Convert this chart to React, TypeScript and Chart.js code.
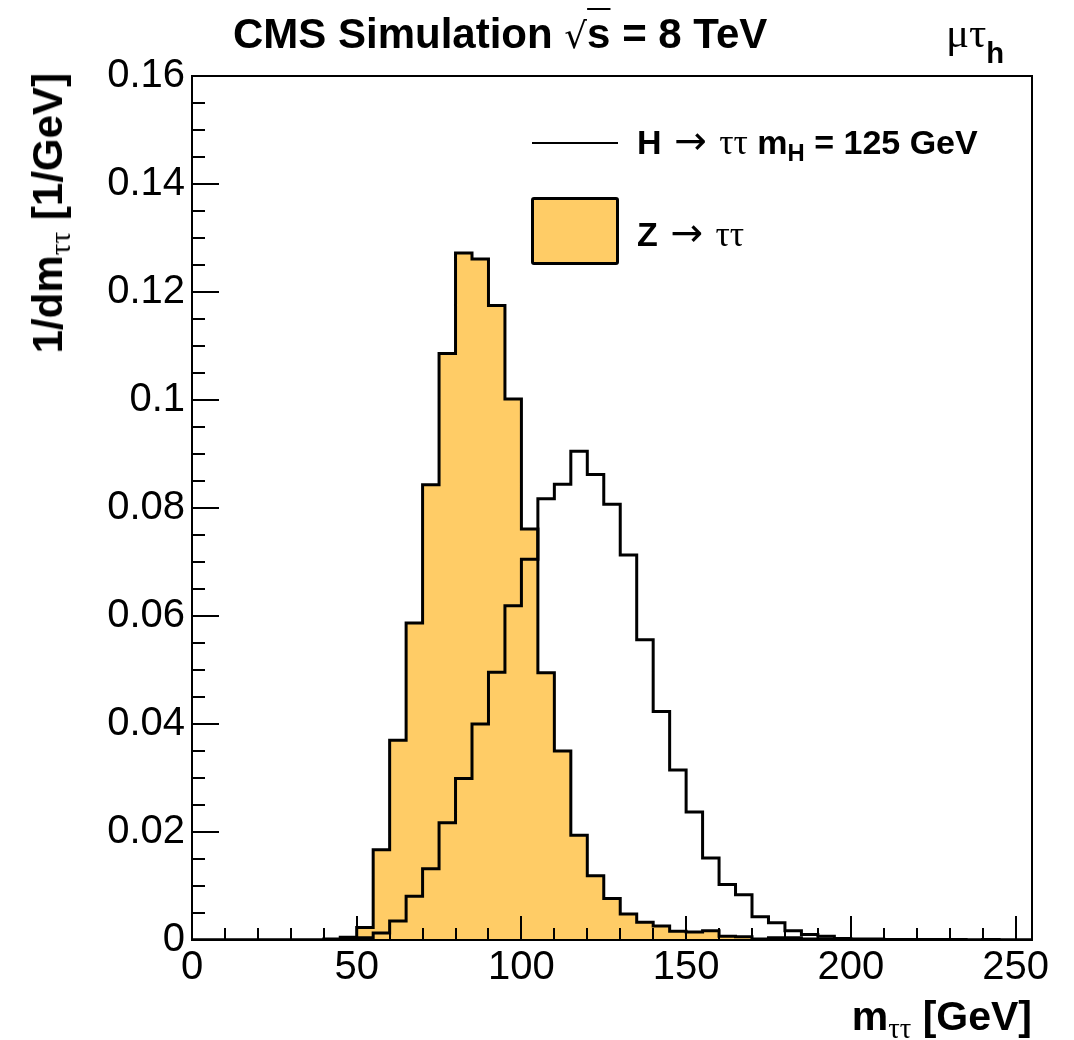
import React, { useEffect, useRef } from "react";
import { Chart, registerables } from "chart.js";

Chart.register(...registerables);

// ---- data ----
const binEdges = [
  0, 5, 10, 15, 20, 25, 30, 35, 40, 45, 50, 55, 60, 65, 70, 75, 80, 85, 90, 95,
  100, 105, 110, 115, 120, 125, 130, 135, 140, 145, 150, 155, 160, 165, 170, 175,
  180, 185, 190, 195, 200, 205, 210, 215, 220, 225, 230, 235, 240, 245, 250, 255,
];

// Z -> tautau (filled), one value per bin
const zttValues = [
  0, 0, 0, 0, 0, 0, 0, 0, 0.0002, 0.0005,
  0.0023, 0.0167, 0.037, 0.0587, 0.0843, 0.1086, 0.1272, 0.1261, 0.1175, 0.1002,
  0.0761, 0.0495, 0.035, 0.0194, 0.0119, 0.0077, 0.0048, 0.0033, 0.0026, 0.0016,
  0.0015, 0.0017, 0.0007, 0.0006, 0.0002, 0.0004, 0.0004, 0.0002, 0.0002, 0.0001,
  0.0001, 0.0001, 0.0001, 0, 0, 0, 0, 0, 0, 0, 0,
];

// H -> tautau, mH = 125 GeV (line), one value per bin
const httValues = [
  0, 0, 0, 0, 0, 0, 0, 0, 0, 0.0001,
  0.0004, 0.0013, 0.0035, 0.0081, 0.0132, 0.0217, 0.0299, 0.04, 0.0496, 0.0619,
  0.0705, 0.0817, 0.0844, 0.0905, 0.0862, 0.0807, 0.0713, 0.0556, 0.0423, 0.0315,
  0.0237, 0.0152, 0.0103, 0.0084, 0.0043, 0.0032, 0.0017, 0.001, 0.0007, 0.0003,
  0.0002, 0.0002, 0.0001, 0.0001, 0.0001, 0.0001, 0.0001, 0, 0.0001, 0, 0,
];

const xTickLabels = [0, 50, 100, 150, 200, 250];
const yTickLabels = [0, 0.02, 0.04, 0.06, 0.08, 0.1, 0.12, 0.14, 0.16];
const xMinorStep = 10;
const yMinorStep = 0.005;

const SANS = '"Liberation Sans", Arial, Helvetica, sans-serif';
const SERIF = '"Liberation Serif", "Times New Roman", serif';
const ARROW = '"DejaVu Sans", sans-serif';
const ZCOLOR = "#ffcc66";

// one point per bin low edge, plus the upper edge of the last bin;
// with stepped "before" each bin value is held from its low edge to the next edge
function histPoints(values: number[]) {
  const pts = values.map((v, i) => ({ x: binEdges[i], y: v }));
  pts.push({ x: binEdges[values.length], y: values[values.length - 1] });
  return pts;
}

const frameAndTicks = {
  id: "frameAndTicks",
  afterDatasetsDraw(chart: any) {
    const { ctx, chartArea, scales } = chart;
    const { left, right, top, bottom } = chartArea;
    const xs = scales.x;
    const ys = scales.y;
    ctx.save();
    ctx.strokeStyle = "#000";
    ctx.lineWidth = 2;
    const yMax = ys.max;
    for (let i = 0; i * yMinorStep <= yMax + 1e-9; i++) {
      const v = i * yMinorStep;
      const major = i % 4 === 0;
      const py = Math.round(ys.getPixelForValue(v));
      ctx.beginPath();
      ctx.moveTo(left, py);
      ctx.lineTo(left + (major ? 27 : 13), py);
      ctx.stroke();
    }
    const xMax = xs.max;
    for (let i = 0; i * xMinorStep <= xMax + 1e-9; i++) {
      const v = i * xMinorStep;
      const major = v % 50 === 0;
      const px = Math.round(xs.getPixelForValue(v));
      ctx.beginPath();
      ctx.moveTo(px, bottom);
      ctx.lineTo(px, bottom - (major ? 24 : 12));
      ctx.stroke();
    }
    ctx.strokeRect(left, top, right - left, bottom - top);
    ctx.restore();
  },
};

function ChartCanvas() {
  const ref = useRef<HTMLCanvasElement | null>(null);
  useEffect(() => {
    document.body.style.margin = "0";
    const canvas = ref.current;
    if (!canvas) return;
    const chart = new Chart(canvas, {
      type: "line",
      data: {
        datasets: [
          {
            label: "H → ττ",
            data: histPoints(httValues),
            stepped: "before",
            borderColor: "#000",
            borderWidth: 3,
            backgroundColor: "rgba(0,0,0,0)",
            fill: false,
            pointRadius: 0,
            tension: 0,
            order: 0,
          },
          {
            label: "Z → ττ",
            data: histPoints(zttValues),
            stepped: "before",
            borderColor: "#000",
            borderWidth: 3,
            backgroundColor: ZCOLOR,
            fill: "origin",
            pointRadius: 0,
            tension: 0,
            order: 1,
          },
        ],
      },
      options: {
        animation: false,
        responsive: false,
        devicePixelRatio: 1,
        parsing: false,
        layout: { padding: { left: 0, top: 76, right: 42, bottom: 0 } },
        plugins: {
          legend: { display: false },
          tooltip: { enabled: false },
          title: { display: false },
        },
        elements: { line: { borderJoinStyle: "miter", borderCapStyle: "butt" } },
        scales: {
          x: {
            type: "linear",
            min: 0,
            max: 255,
            grid: { display: false, drawTicks: false },
            border: { display: false },
            afterBuildTicks: (axis: any) => {
              axis.ticks = xTickLabels.map((v) => ({ value: v }));
            },
            afterFit: (axis: any) => {
              axis.height = 100;
            },
            ticks: {
              autoSkip: false,
              maxRotation: 0,
              padding: 4,
              color: "#000",
              font: { family: SANS, size: 40 },
              callback: (v: any) => String(v),
            },
          },
          y: {
            type: "linear",
            min: 0,
            max: 0.16,
            grid: { display: false, drawTicks: false },
            border: { display: false },
            afterBuildTicks: (axis: any) => {
              axis.ticks = yTickLabels.map((v) => ({ value: v }));
            },
            afterFit: (axis: any) => {
              axis.width = 192;
            },
            ticks: {
              autoSkip: false,
              padding: 7,
              color: "#000",
              font: { family: SANS, size: 40 },
              callback: (v: any) => String(+Number(v).toFixed(3)),
            },
          },
        },
      } as any,
      plugins: [frameAndTicks],
    });
    return () => chart.destroy();
  }, []);
  return (
    <canvas
      ref={ref}
      width={1074}
      height={1040}
      style={{ position: "absolute", left: 0, top: 0, width: 1074, height: 1040 }}
    />
  );
}

const abs = (s: React.CSSProperties): React.CSSProperties => ({
  position: "absolute",
  whiteSpace: "nowrap",
  color: "#000",
  ...s,
});

const tauSub: React.CSSProperties = {
  fontFamily: SERIF,
  fontWeight: "normal",
  fontSize: "0.7em",
  position: "relative",
  top: "0.28em",
};

const arrowStyle: React.CSSProperties = {
  fontFamily: ARROW,
  fontWeight: "normal",
  fontSize: "1.15em",
  lineHeight: "0",
};

export default function App() {
  return (
    <div style={{ position: "relative", width: 1074, height: 1040, overflow: "hidden", background: "#fff" }}>
      <ChartCanvas />
      {/* Title */}
      <div style={abs({ left: 233, top: 13, fontFamily: SANS, fontWeight: "bold", fontSize: 42, lineHeight: "42px" })}>
        CMS Simulation{" "}
        <span style={{ fontFamily: ARROW, fontWeight: "normal", fontSize: "0.85em" }}>√</span>
        <span style={{ textDecoration: "overline", textDecorationThickness: "2px" }}>s</span> = 8 TeV
      </div>
      <div style={abs({ left: 946, top: 11, fontFamily: SERIF, fontSize: 43, lineHeight: "43px" })}>
        μτ
        <span style={{ fontFamily: SANS, fontWeight: "bold", fontSize: "0.68em", position: "relative", top: "0.55em" }}>h</span>
      </div>
      {/* Y axis title */}
      <div
        style={abs({
          left: 27,
          top: 73,
          fontFamily: SANS,
          fontWeight: "bold",
          fontSize: 42,
          lineHeight: "42px",
          transformOrigin: "0 0",
          transform: "rotate(-90deg) translateX(-100%)",
        })}
      >
        1/dm<span style={tauSub}>ττ</span> [1/GeV]
      </div>
      {/* X axis title */}
      <div style={abs({ right: 42, top: 996, fontFamily: SANS, fontWeight: "bold", fontSize: 41, lineHeight: "41px" })}>
        m<span style={tauSub}>ττ</span> [GeV]
      </div>
      {/* Legend */}
      <div style={abs({ left: 532, top: 142, width: 86, height: 0, borderTop: "2px solid #000" })} />
      <div style={abs({ left: 637, top: 125, fontFamily: SANS, fontWeight: "bold", fontSize: 34, lineHeight: "34px" })}>
        H<span style={arrowStyle}> → </span>
        <span style={{ fontFamily: SERIF, fontWeight: "normal", fontSize: "1.05em" }}>ττ</span> m
        <span style={{ fontSize: "0.7em", position: "relative", top: "0.3em" }}>H</span> = 125 GeV
      </div>
      <div
        style={abs({
          left: 531,
          top: 197,
          width: 88,
          height: 68,
          boxSizing: "border-box",
          background: ZCOLOR,
          border: "3px solid #000",
          borderRadius: 3,
        })}
      />
      <div style={abs({ left: 637, top: 217, fontFamily: SANS, fontWeight: "bold", fontSize: 34, lineHeight: "34px" })}>
        Z<span style={arrowStyle}> → </span>
        <span style={{ fontFamily: SERIF, fontWeight: "normal", fontSize: "1.05em" }}>ττ</span>
      </div>
    </div>
  );
}
